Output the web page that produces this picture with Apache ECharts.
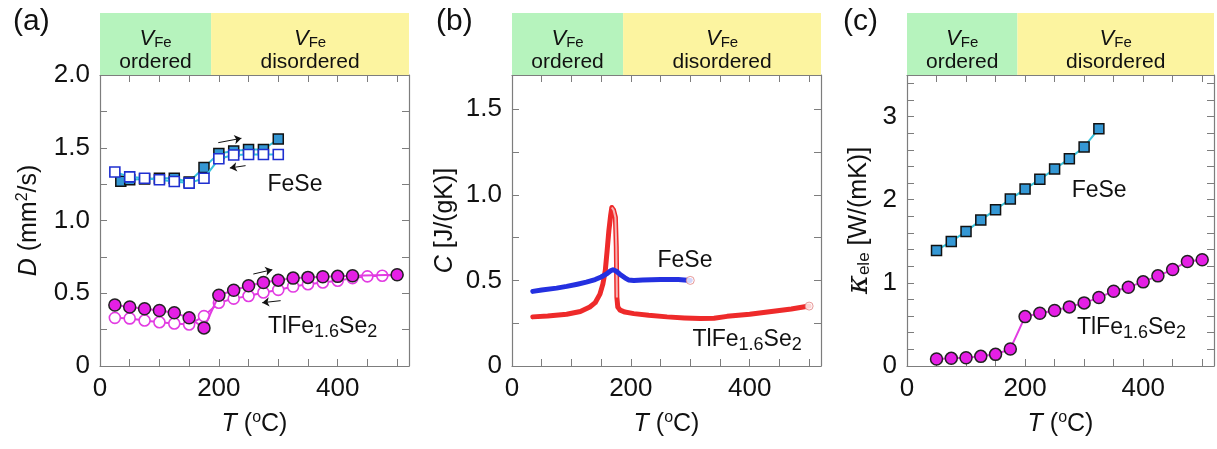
<!DOCTYPE html>
<html><head><meta charset="utf-8">
<script src="https://cdn.jsdelivr.net/npm/echarts@6/dist/echarts.min.js"></script>
<style>html,body{margin:0;padding:0;background:#fff}#c{width:1217px;height:449px}</style>
</head><body><div id="c"></div>
<script>
// ---------- DATA ----------
// Panel (a): thermal diffusivity D (mm^2/s) vs T (degC)
const aFeSeHeatT = [35, 50, 75, 100, 125, 150, 175, 200, 225, 250, 275, 300];
const aFeSeHeatD = [1.27, 1.28, 1.285, 1.29, 1.29, 1.265, 1.365, 1.46, 1.478, 1.488, 1.488, 1.56];
const aFeSeCoolT = [25, 50, 75, 100, 125, 150, 175, 200, 225, 250, 275, 300];
const aFeSeCoolD = [1.333, 1.30, 1.29, 1.28, 1.268, 1.257, 1.29, 1.424, 1.45, 1.454, 1.454, 1.454];
const aTlHeatT = [25, 50, 75, 100, 125, 150, 175, 200, 225, 250, 275, 300, 325, 350, 375, 400, 425, 500];
const aTlHeatD = [0.419, 0.405, 0.393, 0.382, 0.366, 0.331, 0.262, 0.486, 0.521, 0.551, 0.574, 0.59, 0.604, 0.609, 0.613, 0.616, 0.62, 0.627];
const aTlCoolT = [25, 50, 75, 100, 125, 150, 175, 200, 225, 250, 275, 300, 325, 350, 375, 400, 425, 450, 475, 500];
const aTlCoolD = [0.331, 0.327, 0.313, 0.301, 0.292, 0.285, 0.343, 0.435, 0.463, 0.481, 0.505, 0.523, 0.546, 0.562, 0.574, 0.586, 0.604, 0.616, 0.620, 0.627];
// heating / cooling arrows in (a): [T1, D1, T2, D2]
const aArrows = [[199, 1.535, 238, 1.565], [245, 1.377, 218.5, 1.361], [258, 0.632, 290, 0.662], [304, 0.449, 273, 0.435]];

// Panel (b): specific heat C (J/(gK)) vs T
const bFeSeT = [35, 50, 75, 92, 110, 125, 140, 150, 160, 166, 170, 175, 182, 190, 196, 205, 220, 250, 280, 300];
const bFeSeC = [0.436, 0.444, 0.455, 0.465, 0.478, 0.49, 0.505, 0.52, 0.54, 0.556, 0.562, 0.555, 0.535, 0.515, 0.503, 0.5, 0.503, 0.506, 0.505, 0.5];
const bTlT = [35, 60, 92, 115, 131, 140, 148, 153, 157, 160, 163, 166, 168, 171, 174, 175.5, 176.5, 178, 182, 190, 205, 230, 261, 290, 317, 340, 362, 400, 430, 470, 500];
const bTlC = [0.287, 0.292, 0.302, 0.318, 0.345, 0.37, 0.42, 0.48, 0.558, 0.67, 0.79, 0.88, 0.926, 0.91, 0.868, 0.694, 0.4, 0.345, 0.326, 0.315, 0.306, 0.296, 0.287, 0.281, 0.277, 0.279, 0.29, 0.302, 0.316, 0.333, 0.35];
const bTlDropT = [168, 171, 174, 175.5, 176.5];
const bTlDropC = [0.926, 0.91, 0.868, 0.694, 0.4];

// Panel (c): electronic thermal conductivity kappa_ele (W/(mK)) vs T
const cFeSeT = [50, 75, 100, 125, 150, 175, 200, 225, 250, 275, 300, 325];
const cFeSeK = [1.389, 1.498, 1.618, 1.755, 1.88, 2.008, 2.128, 2.245, 2.37, 2.494, 2.635, 2.855];
const cTlT = [50, 75, 100, 125, 150, 175, 200, 225, 250, 275, 300, 325, 350, 375, 400, 425, 450, 475, 500];
const cTlK = [0.084, 0.092, 0.10, 0.116, 0.14, 0.205, 0.594, 0.634, 0.667, 0.711, 0.759, 0.823, 0.90, 0.948, 1.012, 1.084, 1.16, 1.257, 1.277];

// Phase regions (header bars)
const orderedRange = [0, 187];
const disorderedRange = [187, 520];
const T_MIN = 0, T_MAX = 520;

// ---------- CHART ----------
const FF = '"Liberation Sans", Arial, sans-serif';
const axisCol = '#7d7d7d';
const zip = (xs, ys) => xs.map((x, i) => [x, ys[i]]);

const grids = [
  {left: 100, top: 75, width: 309, height: 291},
  {left: 512, top: 75, width: 309, height: 291},
  {left: 907, top: 75, width: 307, height: 291},
  {left: 100, top: 13, width: 309, height: 62},
  {left: 512, top: 13, width: 309, height: 62},
  {left: 907, top: 13, width: 307, height: 62}
];

const nameRich = {
  r: {fontSize: 25, fontFamily: FF, color: '#111', lineHeight: 28},
  i: {fontStyle: 'italic', fontSize: 25, fontFamily: FF, color: '#111', lineHeight: 28},
  k: {fontStyle: 'italic', fontSize: 29, fontFamily: 'DejaVu Serif', color: '#111', lineHeight: 28},
  sup: {fontSize: 16, verticalAlign: 'top', lineHeight: 18, fontFamily: FF, color: '#111'},
  sub: {fontSize: 17, verticalAlign: 'bottom', lineHeight: 10, fontFamily: FF, color: '#111'}
};
const nameStyle = {fontSize: 25, fontFamily: FF, color: '#111', lineHeight: 28, rich: nameRich};

function xBottom(gi) {
  return {type: 'value', gridIndex: gi, min: T_MIN, max: T_MAX, interval: 50, position: 'bottom',
    axisLine: {show: true, onZero: false, lineStyle: {color: axisCol, width: 1.2}},
    axisTick: {show: true, inside: true, length: 7, lineStyle: {color: axisCol}},
    axisLabel: {show: true, margin: 10, fontSize: 26, color: '#111', fontFamily: FF,
      formatter: v => (Math.abs(v % 200) < 1e-6 ? String(v) : '')},
    splitLine: {show: false},
    name: '{i|T}{r| (}{sup|o}{r|C)}', nameLocation: 'middle', nameGap: 44, nameTextStyle: nameStyle};
}
function xTop(gi) {
  return {type: 'value', gridIndex: gi, min: T_MIN, max: T_MAX, interval: 50, position: 'top',
    axisLine: {show: true, onZero: false, lineStyle: {color: axisCol, width: 1.2}},
    axisTick: {show: true, inside: true, length: 7, lineStyle: {color: axisCol}},
    axisLabel: {show: false}, splitLine: {show: false}};
}
function yLeft(gi, max, interval, labelStep, digits, name, gap) {
  return {type: 'value', gridIndex: gi, min: 0, max: max, interval: interval, position: 'left',
    axisLine: {show: true, onZero: false, lineStyle: {color: axisCol, width: 1.2}},
    axisTick: {show: true, inside: true, length: 7, lineStyle: {color: axisCol}},
    axisLabel: {show: true, margin: 10, fontSize: 26, color: '#111', fontFamily: FF,
      formatter: v => {
        const r = v / labelStep;
        if (Math.abs(r - Math.round(r)) > 1e-6) return '';
        if (Math.abs(v) < 1e-9) return '0';
        return v.toFixed(digits);
      }},
    splitLine: {show: false},
    name: name, nameLocation: 'middle', nameRotate: 90, nameGap: gap, nameTextStyle: nameStyle};
}
function yRight(gi, max, interval) {
  return {type: 'value', gridIndex: gi, min: 0, max: max, interval: interval, position: 'right',
    axisLine: {show: true, onZero: false, lineStyle: {color: axisCol, width: 1.2}},
    axisTick: {show: true, inside: true, length: 7, lineStyle: {color: axisCol}},
    axisLabel: {show: false}, splitLine: {show: false}};
}

const xAxes = [xBottom(0), xTop(0), xBottom(1), xTop(1), xBottom(2), xTop(2)];
const yAxes = [
  yLeft(0, 2.0, 0.25, 0.5, 1, '{i|D}{r| (mm}{sup|2}{r|/s)}', 57), yRight(0, 2.0, 0.25),
  yLeft(1, 1.7, 0.25, 0.5, 1, '{i|C}{r| [J/(gK)]}', 53), yRight(1, 1.7, 0.25),
  yLeft(2, 3.5, 0.2, 1, 0, '{k|κ}{sub|ele}{r| [W/(mK)]}', 34), yRight(2, 3.5, 0.2)
];
for (let h = 3; h < 6; h++) {
  xAxes.push({type: 'value', gridIndex: h, min: T_MIN, max: T_MAX, show: false});
  yAxes.push({type: 'value', gridIndex: h, min: 0, max: 1, show: false});
}

const headRich = {
  v: {fontStyle: 'italic', fontSize: 22, fontFamily: FF, color: '#111', lineHeight: 24},
  f: {fontSize: 15, fontFamily: FF, color: '#111', verticalAlign: 'bottom', lineHeight: 12},
  t: {fontSize: 21, fontFamily: FF, color: '#111', lineHeight: 23}
};
function headerSeries(h) {
  return {type: 'line', xAxisIndex: h, yAxisIndex: h, data: [[0, -1]], showSymbol: false, silent: true,
    lineStyle: {opacity: 0},
    markArea: {silent: true,
      label: {show: true, position: 'inside', offset: [0, 6], rich: headRich},
      data: [
        [{name: 'o', xAxis: orderedRange[0], yAxis: 0, itemStyle: {color: '#b6f3bd'},
          label: {formatter: () => '{v|V}{f|Fe}\n{t|ordered}'}},
         {xAxis: orderedRange[1], yAxis: 1}],
        [{name: 'd', xAxis: disorderedRange[0], yAxis: 0, itemStyle: {color: '#fcf4a0'},
          label: {formatter: () => '{v|V}{f|Fe}\n{t|disordered}'}},
         {xAxis: disorderedRange[1], yAxis: 1}]
      ]}};
}

const labRich = {
  n: {fontSize: 23, fontFamily: FF, color: '#111', lineHeight: 28},
  s: {fontSize: 18, fontFamily: FF, color: '#111', verticalAlign: 'bottom', lineHeight: 12}
};
function textMark(x, y, txt) {
  return {coord: [x, y], symbol: 'circle', symbolSize: 1, itemStyle: {color: 'rgba(0,0,0,0)'},
    label: {show: true, position: 'right', distance: 0, formatter: () => txt, rich: labRich}};
}
const feseTxt = '{n|FeSe}';
const tlTxt = '{n|TlFe}{s|1.6}{n|Se}{s|2}';

const cyan = '#36c3dc', magenta = '#e23ce2';
const sqFill = '#3497d4', circFill = '#e51fe5', openBlue = '#1f2fd0';

const series = [
  // ---- panel (a)
  {type: 'line', xAxisIndex: 0, yAxisIndex: 0, data: zip(aFeSeHeatT, aFeSeHeatD), z: 3,
    symbol: 'rect', symbolSize: 10, lineStyle: {color: cyan, width: 2},
    itemStyle: {color: sqFill, borderColor: '#111', borderWidth: 1.5},
    markPoint: {silent: true, data: [textMark(281, 1.243, feseTxt), textMark(282, 0.27, tlTxt)]},
    markLine: {silent: true, symbol: ['none', 'arrow'], symbolSize: 7,
      lineStyle: {type: 'solid', color: '#111', width: 1}, label: {show: false},
      data: aArrows.map(a => [{coord: [a[0], a[1]]}, {coord: [a[2], a[3]]}])}},
  {type: 'line', xAxisIndex: 0, yAxisIndex: 0, data: zip(aFeSeCoolT, aFeSeCoolD), z: 4,
    symbol: 'rect', symbolSize: 10, lineStyle: {color: cyan, width: 2},
    itemStyle: {color: '#fff', borderColor: openBlue, borderWidth: 1.6}},
  {type: 'line', xAxisIndex: 0, yAxisIndex: 0, data: zip(aTlCoolT, aTlCoolD), z: 3,
    symbol: 'circle', symbolSize: 11, lineStyle: {color: magenta, width: 2},
    itemStyle: {color: '#fff', borderColor: magenta, borderWidth: 1.6}},
  {type: 'line', xAxisIndex: 0, yAxisIndex: 0, data: zip(aTlHeatT, aTlHeatD), z: 4,
    symbol: 'circle', symbolSize: 12, lineStyle: {color: magenta, width: 2},
    itemStyle: {color: circFill, borderColor: '#222', borderWidth: 1.5}},
  // ---- panel (b)
  {type: 'line', xAxisIndex: 2, yAxisIndex: 2, data: zip(bTlT, bTlC), z: 3, showSymbol: false,
    lineStyle: {color: '#ee2a2a', width: 5, cap: 'round', join: 'round'},
    markPoint: {silent: true, data: [textMark(244, 0.616, feseTxt), textMark(303, 0.151, tlTxt)]}},
  {type: 'line', xAxisIndex: 2, yAxisIndex: 2, data: zip(bTlDropT, bTlDropC), z: 4, showSymbol: false,
    lineStyle: {color: '#f6b4b4', width: 2}},
  {type: 'line', xAxisIndex: 2, yAxisIndex: 2, data: zip(bFeSeT, bFeSeC), z: 5, showSymbol: false,
    lineStyle: {color: '#2430e0', width: 5, cap: 'round', join: 'round'}},
  {type: 'scatter', xAxisIndex: 2, yAxisIndex: 2, z: 6, symbolSize: 8,
    data: [[bFeSeT[bFeSeT.length - 1], bFeSeC[bFeSeC.length - 1]], [bTlT[bTlT.length - 1], bTlC[bTlC.length - 1]]],
    itemStyle: {color: '#fff', borderColor: '#e08080', borderWidth: 1}},
  // ---- panel (c)
  {type: 'line', xAxisIndex: 4, yAxisIndex: 4, data: zip(cFeSeT, cFeSeK), z: 3,
    symbol: 'rect', symbolSize: 10, lineStyle: {color: cyan, width: 2},
    itemStyle: {color: sqFill, borderColor: '#111', borderWidth: 1.5},
    markPoint: {silent: true, data: [textMark(278, 2.108, feseTxt), textMark(287, 0.458, tlTxt)]}},
  {type: 'line', xAxisIndex: 4, yAxisIndex: 4, data: zip(cTlT, cTlK), z: 3,
    symbol: 'circle', symbolSize: 12, lineStyle: {color: magenta, width: 2},
    itemStyle: {color: circFill, borderColor: '#222', borderWidth: 1.5}},
  headerSeries(6), headerSeries(7), headerSeries(8)
];

const chart = echarts.init(document.getElementById('c'), null, {renderer: 'canvas'});
chart.setOption({
  animation: false,
  backgroundColor: '#fff',
  textStyle: {fontFamily: FF},
  title: [
    {text: '(a)', left: 8, top: 2, textStyle: {fontSize: 30, fontWeight: 'normal', color: '#111', fontFamily: FF}},
    {text: '(b)', left: 431, top: 2, textStyle: {fontSize: 30, fontWeight: 'normal', color: '#111', fontFamily: FF}},
    {text: '(c)', left: 838, top: 2, textStyle: {fontSize: 30, fontWeight: 'normal', color: '#111', fontFamily: FF}}
  ],
  grid: grids,
  xAxis: xAxes,
  yAxis: yAxes,
  series: series
});
</script>
</body></html>
